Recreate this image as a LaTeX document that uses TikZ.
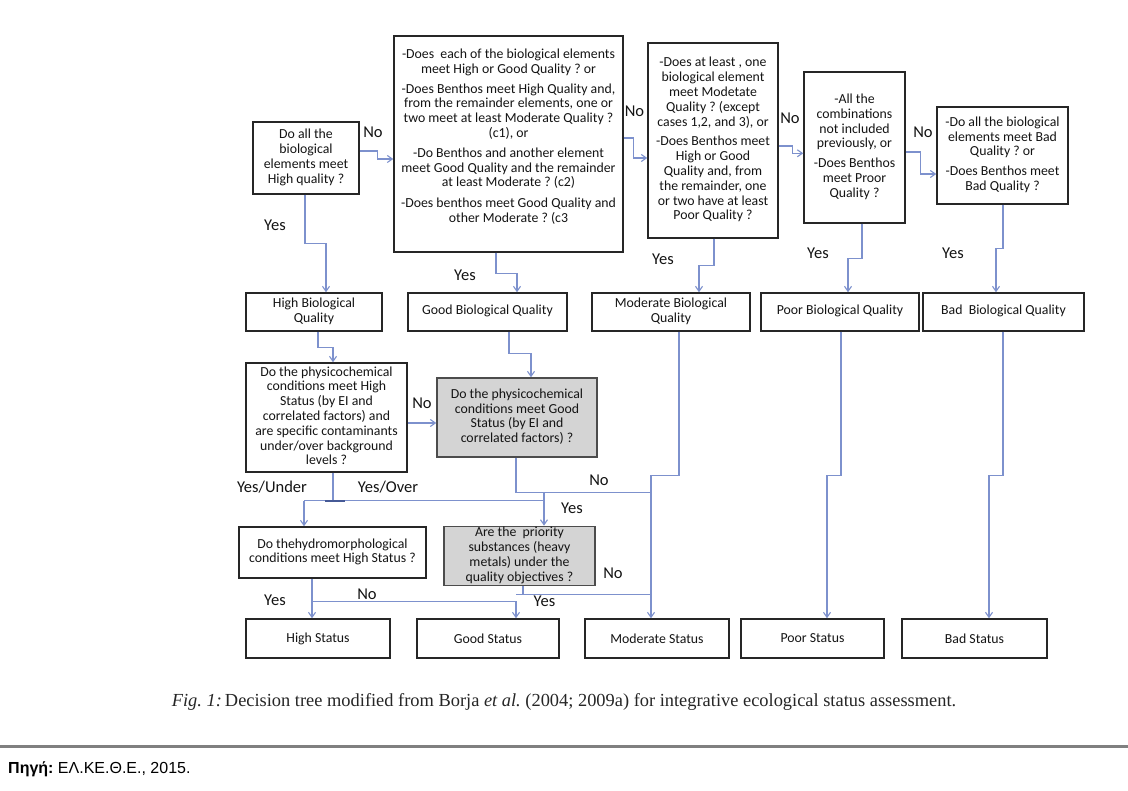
\documentclass[tikz,border=0pt]{standalone}
\usepackage{fontspec}
\setmainfont{Carlito}
\newfontfamily\capfont{Liberation Serif}
\newfontfamily\srcfont{Liberation Sans}
\usetikzlibrary{arrows.meta}
\definecolor{conncol}{RGB}{125,145,205}
\definecolor{conndark}{RGB}{70,90,150}
\definecolor{boxtext}{RGB}{20,20,20}
\definecolor{grayfill}{RGB}{212,212,212}
\definecolor{rulegray}{RGB}{128,128,128}
\newcommand{\btext}[1]{\begin{tabular}{@{}c@{}}#1\end{tabular}}
\begin{document}
\frenchspacing
\begin{tikzpicture}[x=1pt,y=-1pt,
  box/.style={draw=black!85, line width=1.5pt, inner sep=0pt, text=boxtext,
    font=\fontsize{13.8}{14.8}\selectfont},
  grbox/.style={box, fill=grayfill, draw=black!70},
  conn/.style={draw=conncol, line width=1.1pt},
  arr/.style={conn, -{Straight Barb[length=5pt,width=7pt]}},
  lab/.style={font=\fontsize{16.5}{18}\selectfont, text=boxtext, inner sep=0pt},
]
\useasboundingbox[fill=white] (0,0) rectangle (1128,791);

% --- question boxes
\node[box, minimum width=106pt, minimum height=72pt] (q1) at (306,158)
  {\btext{Do all the\\biological\\elements meet\\High quality ?}};
\node[box, minimum width=229pt, minimum height=216pt] (q2) at (508.5,144)
  {\btext{-Does~ each of the biological elements\\meet High or Good Quality ? or\\[5pt]-Does Benthos meet High Quality and,\\from the remainder elements, one or\\two meet at least Moderate Quality ?\\(c1), or\\[5pt]-Do Benthos and another element\\meet Good Quality and the remainder\\at least Moderate ? (c2)\\[6pt]-Does benthos meet Good Quality and\\other Moderate ? (c3\\[13pt]}};
\node[box, minimum width=130pt, minimum height=195pt] (q3) at (713,140.5)
  {\btext{-Does at least , one\\biological element\\meet Modetate\\Quality ? (except\\cases 1,2, and 3), or\\[5pt]-Does Benthos meet\\High or Good\\Quality and, from\\the remainder, one\\or two have at least\\Poor Quality ?}};
\node[box, minimum width=101pt, minimum height=151pt] (q4) at (854.5,147.5)
  {\btext{-All the\\combinations\\not included\\previously, or\\[5pt]-Does Benthos\\meet Proor\\Quality ?}};
\node[box, minimum width=131pt, minimum height=97pt] (q5) at (1002.5,155.5)
  {\btext{-Do all the biological\\elements meet Bad\\Quality ? or\\[5pt]-Does Benthos meet\\Bad Quality ?}};

% --- biological quality boxes
\node[box, minimum width=136pt, minimum height=38pt] (hbq) at (314,312) {\btext{High Biological\\Quality}};
\node[box, minimum width=159pt, minimum height=38pt] (gbq) at (487.5,312) {\btext{Good Biological Quality}};
\node[box, minimum width=158pt, minimum height=38pt] (mbq) at (671,312) {\btext{Moderate Biological\\Quality}};
\node[box, minimum width=158pt, minimum height=38pt] (pbq) at (840,312) {\btext{Poor Biological Quality}};
\node[box, minimum width=161pt, minimum height=38pt] (bbq) at (1003.5,312) {\btext{Bad~ Biological Quality}};

% --- physicochemical etc.
\node[box, minimum width=161pt, minimum height=109pt] (ph) at (326.5,417.5)
  {\btext{Do the physicochemical\\conditions meet High\\Status (by EI and\\correlated factors) and\\are specific contaminants\\under/over background\\levels ?}};
\node[grbox, minimum width=160pt, minimum height=79pt] (pg) at (517,417.5)
  {\btext{Do the physicochemical\\conditions meet Good\\Status (by EI and\\correlated factors) ?}};
\node[box, minimum width=187pt, minimum height=51pt] (hy) at (332.5,552.5)
  {\btext{Do thehydromorphological\\conditions meet High Status ?}};
\node[grbox, minimum width=151pt, minimum height=58pt] (pr) at (519.5,556)
  {\btext{Are the~ priority\\substances (heavy\\metals) under the\\quality objectives ?}};

% --- status boxes
\node[box, minimum width=144pt, minimum height=39pt] (hs) at (318,638.5) {High Status};
\node[box, minimum width=142pt, minimum height=39pt] (gs) at (488,638.5) {Good Status};
\node[box, minimum width=144pt, minimum height=39pt] (ms) at (657,638.5) {Moderate Status};
\node[box, minimum width=143pt, minimum height=39pt] (ps) at (812.5,638.5) {Poor Status};
\node[box, minimum width=145pt, minimum height=39pt] (bs) at (974.5,638.5) {Bad Status};

% --- connectors, top row
\draw[arr] ([yshift=7pt]q1.east) -- ++(18,0) |- ([yshift=-15pt]q2.west);
\draw[arr] ([yshift=6pt]q2.east) -- ++(10,0) |- ([yshift=-17.5pt]q3.west);
\draw[arr] ([yshift=-5.5pt]q3.east) -- ++(14,0) |- ([yshift=-5.8pt]q4.west);
\draw[arr] ([yshift=-4.5pt]q4.east) -- ++(15,0) |- ([yshift=-18.5pt]q5.west);
\draw[arr] ([xshift=-1pt]q1.south) -- ++(0,49) -| ([xshift=12pt]hbq.north);
\draw[arr] ([xshift=-12.5pt]q2.south) -- ++(0,21) -| ([xshift=29.5pt]gbq.north);
\draw[arr] ([xshift=1pt]q3.south) -- ++(0,27) -| ([xshift=28pt]mbq.north);
\draw[arr] ([xshift=7.5pt]q4.south) -- ++(0,35) -| ([xshift=8pt]pbq.north);
\draw[arr] ([xshift=0.5pt]q5.south) -- ++(0,44) -| ([xshift=-7.5pt]bbq.north);

% --- middle
\draw[arr] ([xshift=4pt]hbq.south) -- ++(0,16) -| ([xshift=6.5pt]ph.north);
\draw[arr] ([xshift=21.5pt]gbq.south) -- ++(0,22) -| ([xshift=14pt]pg.north);
\draw[arr] ([yshift=-5.5pt]ph.east) -- ([yshift=-5.5pt]pg.west);
\draw[arr] ([xshift=8pt]mbq.south) -- ++(0,144) -| ([xshift=-6pt]ms.north);
\draw[arr] ([xshift=1pt]pbq.south) -- ++(0,144) -| ([xshift=14.5pt]ps.north);
\draw[arr] ([xshift=-0.5pt]bbq.south) -- ++(0,144) -| ([xshift=14.5pt]bs.north);

\coordinate (prin) at ([xshift=24.5pt]pr.north);
\coordinate (hyin) at ([xshift=-28.5pt]hy.north);
\coordinate (gsin) at ([xshift=28pt]gs.north);
\coordinate (msin) at ([xshift=-6pt]ms.north);
\coordinate (jNo) at ([xshift=-1pt,yshift=-35pt]pg.south);
\coordinate (jT) at ([xshift=6.5pt,yshift=-28pt]ph.south);
\coordinate (hyout) at ([xshift=-20.5pt]hy.south);
\coordinate (prout) at ([xshift=3.5pt]pr.south);
\coordinate (jP) at ([yshift=-8pt]prout);

\draw[conn] ([xshift=-1pt]pg.south) -- (jNo) -- (msin |- jNo);
\draw[arr] (prin |- jNo) -- (prin);
\draw[conn] ([xshift=6.5pt]ph.south) -- (jT);
\draw[conn] (hyin |- jT) -- (prin |- jT);
\draw[arr] (hyin |- jT) -- (hyin);
\draw[draw=conndark, line width=2pt] ([xshift=-8pt]jT) -- ([xshift=12pt]jT);
\draw[arr] (hyout) -- (hyout |- hs.north);
\draw[arr] ([yshift=-23pt]hyout) -| (gsin);
\draw[conn] (prout) -- (jP);
\draw[conn] (gsin |- jP) -- (msin |- jP);

% --- labels
\node[lab] (l1) at (373,132) {No};
\node[lab] (l2) at (275,225) {Yes};
\node[lab] (l3) at (465,275) {Yes};
\node[lab] (l4) at (634.5,111) {No};
\node[lab] (l5) at (790,118) {No};
\node[lab] (l6) at (923,132) {No};
\node[lab] (l7) at (663,259) {Yes};
\node[lab] (l8) at (818,253) {Yes};
\node[lab] (l9) at (953,253) {Yes};
\node[lab] (l10) at (422,403) {No};
\node[lab] (l11) at (272,487) {Yes/Under};
\node[lab] (l12) at (388,487) {Yes/Over};
\node[lab] (l13) at (599,480) {No};
\node[lab] (l14) at (572,508) {Yes};
\node[lab] (l15) at (275,600) {Yes};
\node[lab] (l16) at (367,594) {No};
\node[lab] (l17) at (613,573) {No};
\node[lab] (l18) at (544.5,601) {Yes};

% --- caption and source
\node[font=\capfont\fontsize{18.4}{21}\selectfont, text=black!85, inner sep=0pt] (cap) at (564,702)
  {\textit{Fig. 1:}\,Decision tree modified from Borja \textit{et al.} (2004; 2009a) for integrative ecological status assessment.};
\draw[rulegray, line width=3pt] (0,746) -- (1128,746);
\node[anchor=west, font=\srcfont\fontsize{16}{18}\selectfont, inner sep=0pt] (src) at (8,769)
  {\textbf{Πηγή:} ΕΛ.ΚΕ.Θ.Ε., 2015.};
\end{tikzpicture}
\end{document}
